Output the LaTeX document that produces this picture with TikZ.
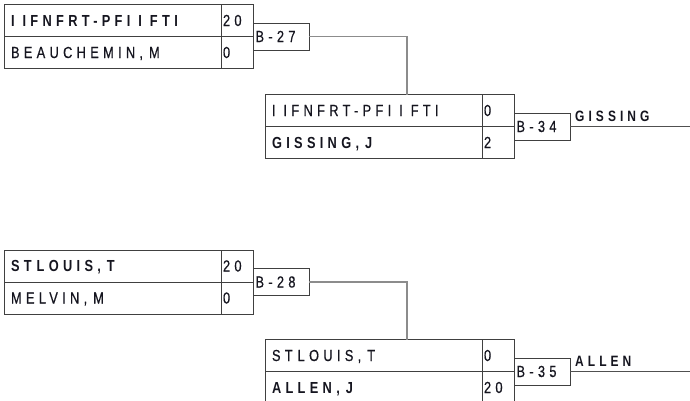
\documentclass[tikz,border=0pt]{standalone}
\usepackage{fontspec}
\setmainfont{Liberation Sans}[FakeStretch=0.8, LetterSpace=27, UprightFeatures={FakeBold=0.5}]
\definecolor{boxgray}{HTML}{404040}
\definecolor{conngray}{HTML}{8C8C8C}
\definecolor{wingray}{HTML}{505050}
\definecolor{txt}{HTML}{15151F}
\newcommand\gp{\hbox{}\kern6pt\hbox{}}
\newcommand\sgp{\hbox{}\kern5pt\hbox{}}
\newcommand\igp{\hbox{}\kern8pt\hbox{}}
\begin{document}
\begin{tikzpicture}[x=1pt,y=-1pt,
  cell/.style={draw=boxgray, line width=1pt, rectangle, anchor=north west, outer sep=0pt,
    minimum height=32pt, text height=11pt, text depth=0pt, align=left, inner ysep=0pt,
    text=txt, font=\fontsize{16}{16}\selectfont},
  namecell/.style={cell, inner xsep=7pt, text width=203pt},
  scorecell/.style={cell, inner xsep=2pt, text width=28.5pt},
  bbox/.style={draw=boxgray, line width=1pt, rectangle, anchor=west, outer sep=0pt,
    minimum height=27pt, inner xsep=2pt, inner ysep=0pt, text width=51.5pt,
    text height=11pt, text depth=0pt, align=left, text=txt, font=\fontsize{16}{16}\selectfont},
  conn/.style={draw=conngray, line width=1.2pt},
  winline/.style={draw=wingray, line width=1.1pt},
  wintxt/.style={anchor=base west, inner sep=0pt, text=txt, font=\fontsize{15}{15}\selectfont\bfseries},
]
\path[use as bounding box] (0,0) rectangle (690,400);
\clip (0,0) rectangle (690,400);
\fill[white] (0,0) rectangle (690,400);

% match B-27
\node[namecell] (m1a) at (4,4.5) {\bfseries I\igp IFNFRT-PFI\igp I\igp FTI};
\node[scorecell] (s1a) at (m1a.north east) {20};
\node[namecell] (m1b) at (m1a.south west) {BEAUCHEMIN,\gp M};
\node[scorecell] (s1b) at (m1b.north east) {0};
\node[bbox] (b27) at (s1a.south east) {B-27};

% match B-34
\node[namecell] (m2a) at (265,94.5) {I\igp IFNFRT-PFI\igp I\igp FTI};
\node[scorecell] (s2a) at (m2a.north east) {0};
\node[namecell] (m2b) at (m2a.south west) {\bfseries GISSING,\gp J};
\node[scorecell] (s2b) at (m2b.north east) {2};
\node[bbox] (b34) at (s2a.south east) {B-34};

% match B-28
\node[namecell] (m3a) at (4,250) {\bfseries ST\sgp LOUIS,\gp T};
\node[scorecell] (s3a) at (m3a.north east) {20};
\node[namecell] (m3b) at (m3a.south west) {MELVIN,\gp M};
\node[scorecell] (s3b) at (m3b.north east) {0};
\node[bbox] (b28) at (s3a.south east) {B-28};

% match B-35
\node[namecell] (m4a) at (265,339.5) {ST\sgp LOUIS,\gp T};
\node[scorecell] (s4a) at (m4a.north east) {0};
\node[namecell] (m4b) at (m4a.south west) {\bfseries ALLEN,\gp J};
\node[scorecell] (s4b) at (m4b.north east) {20};
\node[bbox] (b35) at (s4a.south east) {B-35};

% connectors
\coordinate (j1) at (407,94.5);
\coordinate (j2) at (407,339.5);
\draw[conn] (b27.east) -| (j1);
\draw[conn] (b28.east) -| (j2);

\coordinate (e1) at (690,126.5);
\coordinate (e2) at (690,371.5);
\draw[winline] (b34.east) -- (e1);
\draw[winline] (b35.east) -- (e2);
\node[wintxt] (w1) at ([xshift=5pt,yshift=5pt]b34.east) {GISSING};
\node[wintxt] (w2) at ([xshift=5pt,yshift=5pt]b35.east) {ALLEN};
\end{tikzpicture}
\end{document}
